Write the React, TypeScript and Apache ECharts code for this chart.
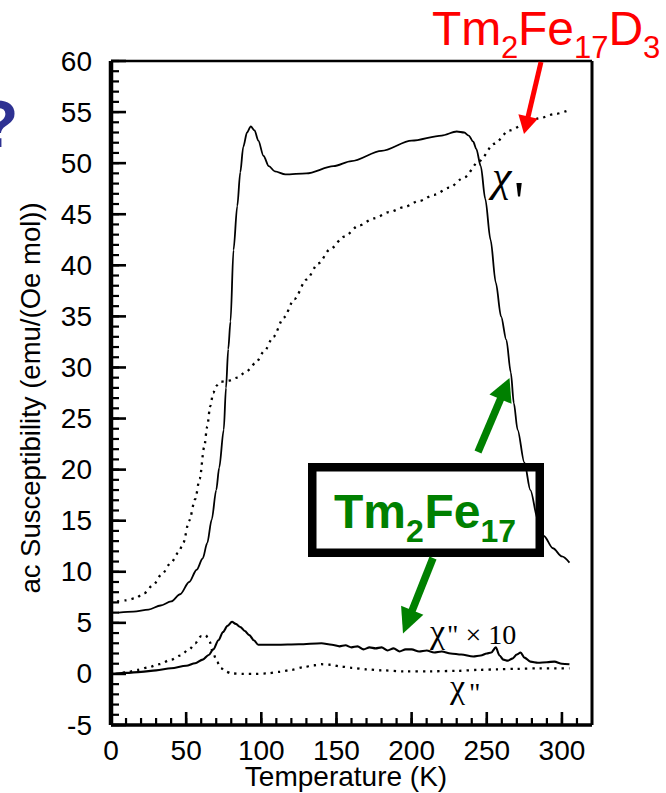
import { useEffect, useRef } from "react";
import * as echarts from "echarts";

// χ' of Tm2Fe17 (solid curve), temperature in K, susceptibility in emu/(Oe mol)
const tmPrimeTemp = [5, 15, 25, 33, 40, 46, 52, 57, 61, 64, 67, 70, 72, 75, 76.5, 78, 79.5, 81.5, 84, 86, 88, 90.5, 93, 95.5, 98, 101.5, 105, 109, 116, 130, 148, 160, 180, 200, 220, 230, 235, 238, 241, 243, 246, 249, 252.5, 256, 259.5, 263, 266, 268, 270.5, 275, 279, 284, 288, 294, 300, 305];
const tmPrimeVal = [6.0, 6.1, 6.3, 6.7, 7.1, 7.8, 9.0, 10.2, 11.3, 12.8, 15.1, 18.0, 20.2, 23.9, 28.0, 31.8, 34.5, 41.5, 45.8, 49.1, 51.6, 53.0, 53.6, 53.2, 52.2, 50.7, 49.7, 49.2, 48.9, 49.0, 49.7, 50.2, 51.2, 52.2, 52.7, 53.1, 53.0, 52.7, 52.1, 51.4, 49.7, 46.5, 42.5, 38.3, 35.0, 32.7, 29.5, 26.5, 23.9, 20.7, 18.0, 15.1, 13.5, 12.3, 11.5, 10.9];

// χ' of Tm2Fe17D3 (dotted curve)
const deutPrimeTemp = [4, 10, 16, 22, 28, 34, 40, 45, 48, 52, 56, 59, 62, 64, 66, 68, 70, 73, 78, 84, 90, 96, 102, 108, 115, 122, 130, 138, 146, 155, 165, 175, 185, 195, 205, 215, 225, 235, 245, 255, 265, 275, 285, 295, 303];
const deutPrimeVal = [7.1, 7.2, 7.4, 7.9, 8.7, 9.8, 10.9, 11.9, 12.8, 15.0, 17.1, 19.1, 22.2, 24.2, 26.2, 27.5, 28.2, 28.6, 28.7, 29.0, 29.6, 30.4, 31.6, 33.0, 34.9, 36.7, 38.6, 40.2, 41.6, 42.8, 43.9, 44.6, 45.2, 45.7, 46.3, 46.9, 47.6, 48.6, 50.2, 51.9, 53.2, 53.8, 54.4, 54.8, 55.1];

// χ'' × 10 of Tm2Fe17 (solid curve)
const lossX10Temp = [3, 10, 20, 30, 40, 50, 56, 61, 65, 68, 71.5, 74.5, 77.5, 80.5, 83, 86, 89, 92, 95, 98, 110, 125, 140, 147, 152, 156, 160, 164, 168, 172, 176, 180, 184, 188, 192, 196, 200, 205, 210, 215, 220, 226, 233, 241, 246, 250, 253, 256, 258.5, 261, 264, 267, 270, 272.5, 275, 279, 284, 290, 295, 300, 305];
const lossX10Val = [0.0, 0.1, 0.2, 0.35, 0.55, 0.8, 1.05, 1.4, 1.85, 2.4, 3.3, 4.1, 4.7, 5.1, 4.9, 4.6, 4.2, 3.8, 3.3, 2.85, 2.85, 2.9, 3.0, 2.85, 2.7, 2.8, 2.6, 2.7, 2.4, 2.6, 2.5, 2.6, 2.3, 2.5, 2.2, 2.4, 2.4, 2.2, 2.3, 2.1, 2.2, 2.0, 1.9, 1.7, 1.8, 2.0, 2.1, 2.6, 1.8, 1.4, 1.3, 1.5, 1.9, 2.1, 1.6, 1.2, 1.1, 1.15, 1.2, 1.0, 0.95];

// χ'' (dotted curve)
const lossTemp = [3, 10, 18, 25, 32, 40, 46, 52, 56, 60, 63, 65.5, 68, 70.5, 73, 76, 80, 88, 96, 104, 112, 120, 128, 135, 140, 146, 152, 160, 170, 180, 195, 212, 230, 245, 257, 270, 285, 305];
const lossVal = [0.0, 0.15, 0.4, 0.65, 0.95, 1.4, 1.8, 2.4, 3.0, 3.7, 3.8, 3.2, 2.0, 1.2, 0.6, 0.25, 0.05, 0.0, 0.0, 0.05, 0.2, 0.4, 0.65, 0.85, 0.95, 0.9, 0.75, 0.6, 0.45, 0.35, 0.25, 0.25, 0.3, 0.4, 0.45, 0.5, 0.55, 0.55];

// axis ranges and tick steps
const X_MIN = 0;
const X_MAX = 320;
const X_STEP = 50;
const X_LAST_MAJOR = 300;
const X_MINOR_STEP = 10;
const Y_MIN = -5;
const Y_MAX = 60;
const Y_STEP = 5;
const Y_MINOR_STEP = 1;

const X_TITLE = "Temperature (K)";
const Y_TITLE = "ac Susceptibility (emu/(Oe mol))";

const SANS = "'Liberation Sans', Arial, Helvetica, sans-serif";
const SERIF = "'Liberation Serif', 'Times New Roman', serif";

const RED = "#ff0000";
const GREEN = "#008000";
const BLUE = "#2e3192";
const INK = "#000";

const pairs = (t: number[], v: number[]) => t.map((x, i) => [x, v[i]]);
const steps = (from: number, to: number, step: number) => {
  const out: number[] = [];
  for (let v = from; v <= to + 1e-9; v += step) out.push(Math.round(v * 1000) / 1000);
  return out;
};

type LabelOpts = {
  family?: string;
  weight?: string;
  fontStyle?: string;
  color?: string;
  align?: string;
  rotation?: number;
};

function label(text: string, x: number, y: number, size: number, o: LabelOpts = {}) {
  const align = o.align ?? "left";
  return {
    type: "text",
    x,
    y,
    z: 100,
    rotation: o.rotation ?? 0,
    style: {
      text,
      fontSize: size,
      fontFamily: o.family ?? SANS,
      fontWeight: o.weight ?? "normal",
      fontStyle: o.fontStyle ?? "normal",
      fill: o.color ?? INK,
      align,
      verticalAlign: "middle",
      textAlign: align,
      textVerticalAlign: "middle",
    },
  };
}

function arrow(x1: number, y1: number, x2: number, y2: number, shaft: number, headLen: number, headW: number, color: string) {
  const dx = x2 - x1;
  const dy = y2 - y1;
  const len = Math.hypot(dx, dy);
  const ux = dx / len;
  const uy = dy / len;
  const px = -uy;
  const py = ux;
  const bx = x2 - ux * headLen;
  const by = y2 - uy * headLen;
  return [
    {
      type: "line",
      z: 100,
      shape: { x1, y1, x2: bx + ux * 2, y2: by + uy * 2 },
      style: { stroke: color, lineWidth: shaft },
    },
    {
      type: "polygon",
      z: 100,
      shape: {
        points: [
          [x2, y2],
          [bx + (px * headW) / 2, by + (py * headW) / 2],
          [bx - (px * headW) / 2, by - (py * headW) / 2],
        ],
      },
      style: { fill: color },
    },
  ];
}

export default function App() {
  const ref = useRef<HTMLDivElement>(null);

  useEffect(() => {
    if (!ref.current) return;
    const chart = echarts.init(ref.current, undefined, { renderer: "svg" });

    const tickFont = { fontSize: 28, fontFamily: SANS, color: INK };

    const annotations: any[] = [
      // big blue question mark at the left edge
      label("?", -22, 124, 66, { weight: "bold", color: BLUE }),
      // axis titles
      label(Y_TITLE, 30, 398, 27.5, { align: "center", rotation: Math.PI / 2 }),
      label(X_TITLE, 346, 776, 28, { align: "center" }),
      // curve labels
      label("χ", 492, 176, 44, { family: SERIF, fontStyle: "italic" }),
      label("'", 514, 202, 56, { family: SERIF }),
      label("χ", 430, 631.5, 34, { family: SERIF }),
      label('" × 10', 447, 634, 28, { family: SERIF }),
      label("χ", 450, 686.5, 34, { family: SERIF }),
      label('"', 469, 692, 28, { family: SERIF }),
      // Tm2Fe17D3 in red
      label("Tm", 432, 28.4, 48, { color: RED }),
      label("2", 501, 47.3, 31, { color: RED }),
      label("Fe", 518, 28.4, 48, { color: RED }),
      label("17", 574, 47.3, 31, { color: RED }),
      label("D", 608.5, 28.4, 48, { color: RED }),
      label("3", 643, 47.3, 31, { color: RED }),
      ...arrow(541, 62, 524, 134, 5, 18, 20, RED),
      // Tm2Fe17 in a box, green
      {
        type: "rect",
        z: 100,
        shape: { x: 312.25, y: 467.25, width: 227.5, height: 85.5 },
        style: { fill: "none", stroke: INK, lineWidth: 8.5 },
      },
      label("Tm", 334, 511.4, 48, { weight: "bold", color: GREEN }),
      label("2", 406, 530.9, 32, { weight: "bold", color: GREEN }),
      label("Fe", 424.5, 511.4, 48, { weight: "bold", color: GREEN }),
      label("17", 480.5, 530.9, 32, { weight: "bold", color: GREEN }),
      ...arrow(478, 452, 509.5, 378, 7.5, 23, 24, GREEN),
      ...arrow(433, 558, 403, 633.5, 7.5, 25, 24, GREEN),
    ];

    const solid = (w: number) => ({ color: INK, width: w });
    const dotted = { color: INK, width: 2.3, type: [2.3, 5] as any };

    chart.setOption({
      animation: false,
      backgroundColor: "#fff",
      grid: { left: 111, top: 61, width: 481, height: 664, containLabel: false },
      xAxis: {
        type: "value",
        min: X_MIN,
        max: X_MAX,
        interval: X_STEP,
        axisLine: { show: false },
        axisTick: { show: false },
        axisLabel: { ...tickFont, margin: 11, showMaxLabel: false },
        splitLine: { show: false },
      },
      yAxis: {
        type: "value",
        min: Y_MIN,
        max: Y_MAX,
        interval: Y_STEP,
        axisLine: { show: false },
        axisTick: { show: false },
        axisLabel: { ...tickFont, margin: 19 },
        splitLine: { show: false },
      },
      series: [
        { name: "χ' Tm2Fe17", type: "line", data: pairs(tmPrimeTemp, tmPrimeVal), symbol: "none", smooth: 0.3, smoothMonotone: "x", lineStyle: solid(1.8), z: 3 },
        { name: "χ' Tm2Fe17D3", type: "line", data: pairs(deutPrimeTemp, deutPrimeVal), symbol: "none", smooth: 0.3, smoothMonotone: "x", lineStyle: dotted, z: 3 },
        { name: "χ'' × 10", type: "line", data: pairs(lossX10Temp, lossX10Val), symbol: "none", smooth: 0.3, smoothMonotone: "x", lineStyle: solid(2.1), z: 3 },
        { name: "χ''", type: "line", data: pairs(lossTemp, lossVal), symbol: "none", smooth: 0.3, smoothMonotone: "x", lineStyle: dotted, z: 3 },
      ],
      graphic: annotations,
    });

    // frame and inward ticks, positioned through the grid's own scales
    const toPx = (x: number, y: number) => chart.convertToPixel({ gridIndex: 0 }, [x, y]) as number[];
    const [left, bottom] = toPx(X_MIN, Y_MIN);
    const [right, top] = toPx(X_MAX, Y_MAX);
    const seg = (x1: number, y1: number, x2: number, y2: number, w: number) => ({
      type: "line",
      z: 60,
      silent: true,
      shape: { x1, y1, x2, y2 },
      style: { stroke: INK, lineWidth: w },
    });
    const frame: any[] = [];
    steps(X_MIN, X_MAX - X_MINOR_STEP, X_MINOR_STEP).forEach((v) => {
      const x = toPx(v, Y_MIN)[0];
      frame.push(seg(x, bottom, x, bottom - 7, 2.2));
    });
    steps(X_MIN, X_LAST_MAJOR, X_STEP).forEach((v) => {
      const x = toPx(v, Y_MIN)[0];
      frame.push(seg(x, bottom, x, bottom - 13, 2.6));
    });
    steps(Y_MIN, Y_MAX, Y_MINOR_STEP).forEach((v) => {
      const y = toPx(X_MIN, v)[1];
      frame.push(seg(left, y, left + 8, y, 2.2));
    });
    steps(Y_MIN, Y_MAX, Y_STEP).forEach((v) => {
      const y = toPx(X_MIN, v)[1];
      frame.push(seg(left, y, left + 15, y, 2.6));
    });
    frame.push(seg(left, top, right, top, 2.5));
    frame.push(seg(right, top, right, bottom, 3));
    frame.push(seg(left, bottom, right, bottom, 3.5));
    frame.push(seg(left, top, left, bottom, 4.5));

    chart.setOption({ graphic: [...annotations, ...frame] });

    return () => chart.dispose();
  }, []);

  return (
    <div
      ref={ref}
      style={{ position: "absolute", left: 0, top: 0, width: 666, height: 793, background: "#fff" }}
    />
  );
}
